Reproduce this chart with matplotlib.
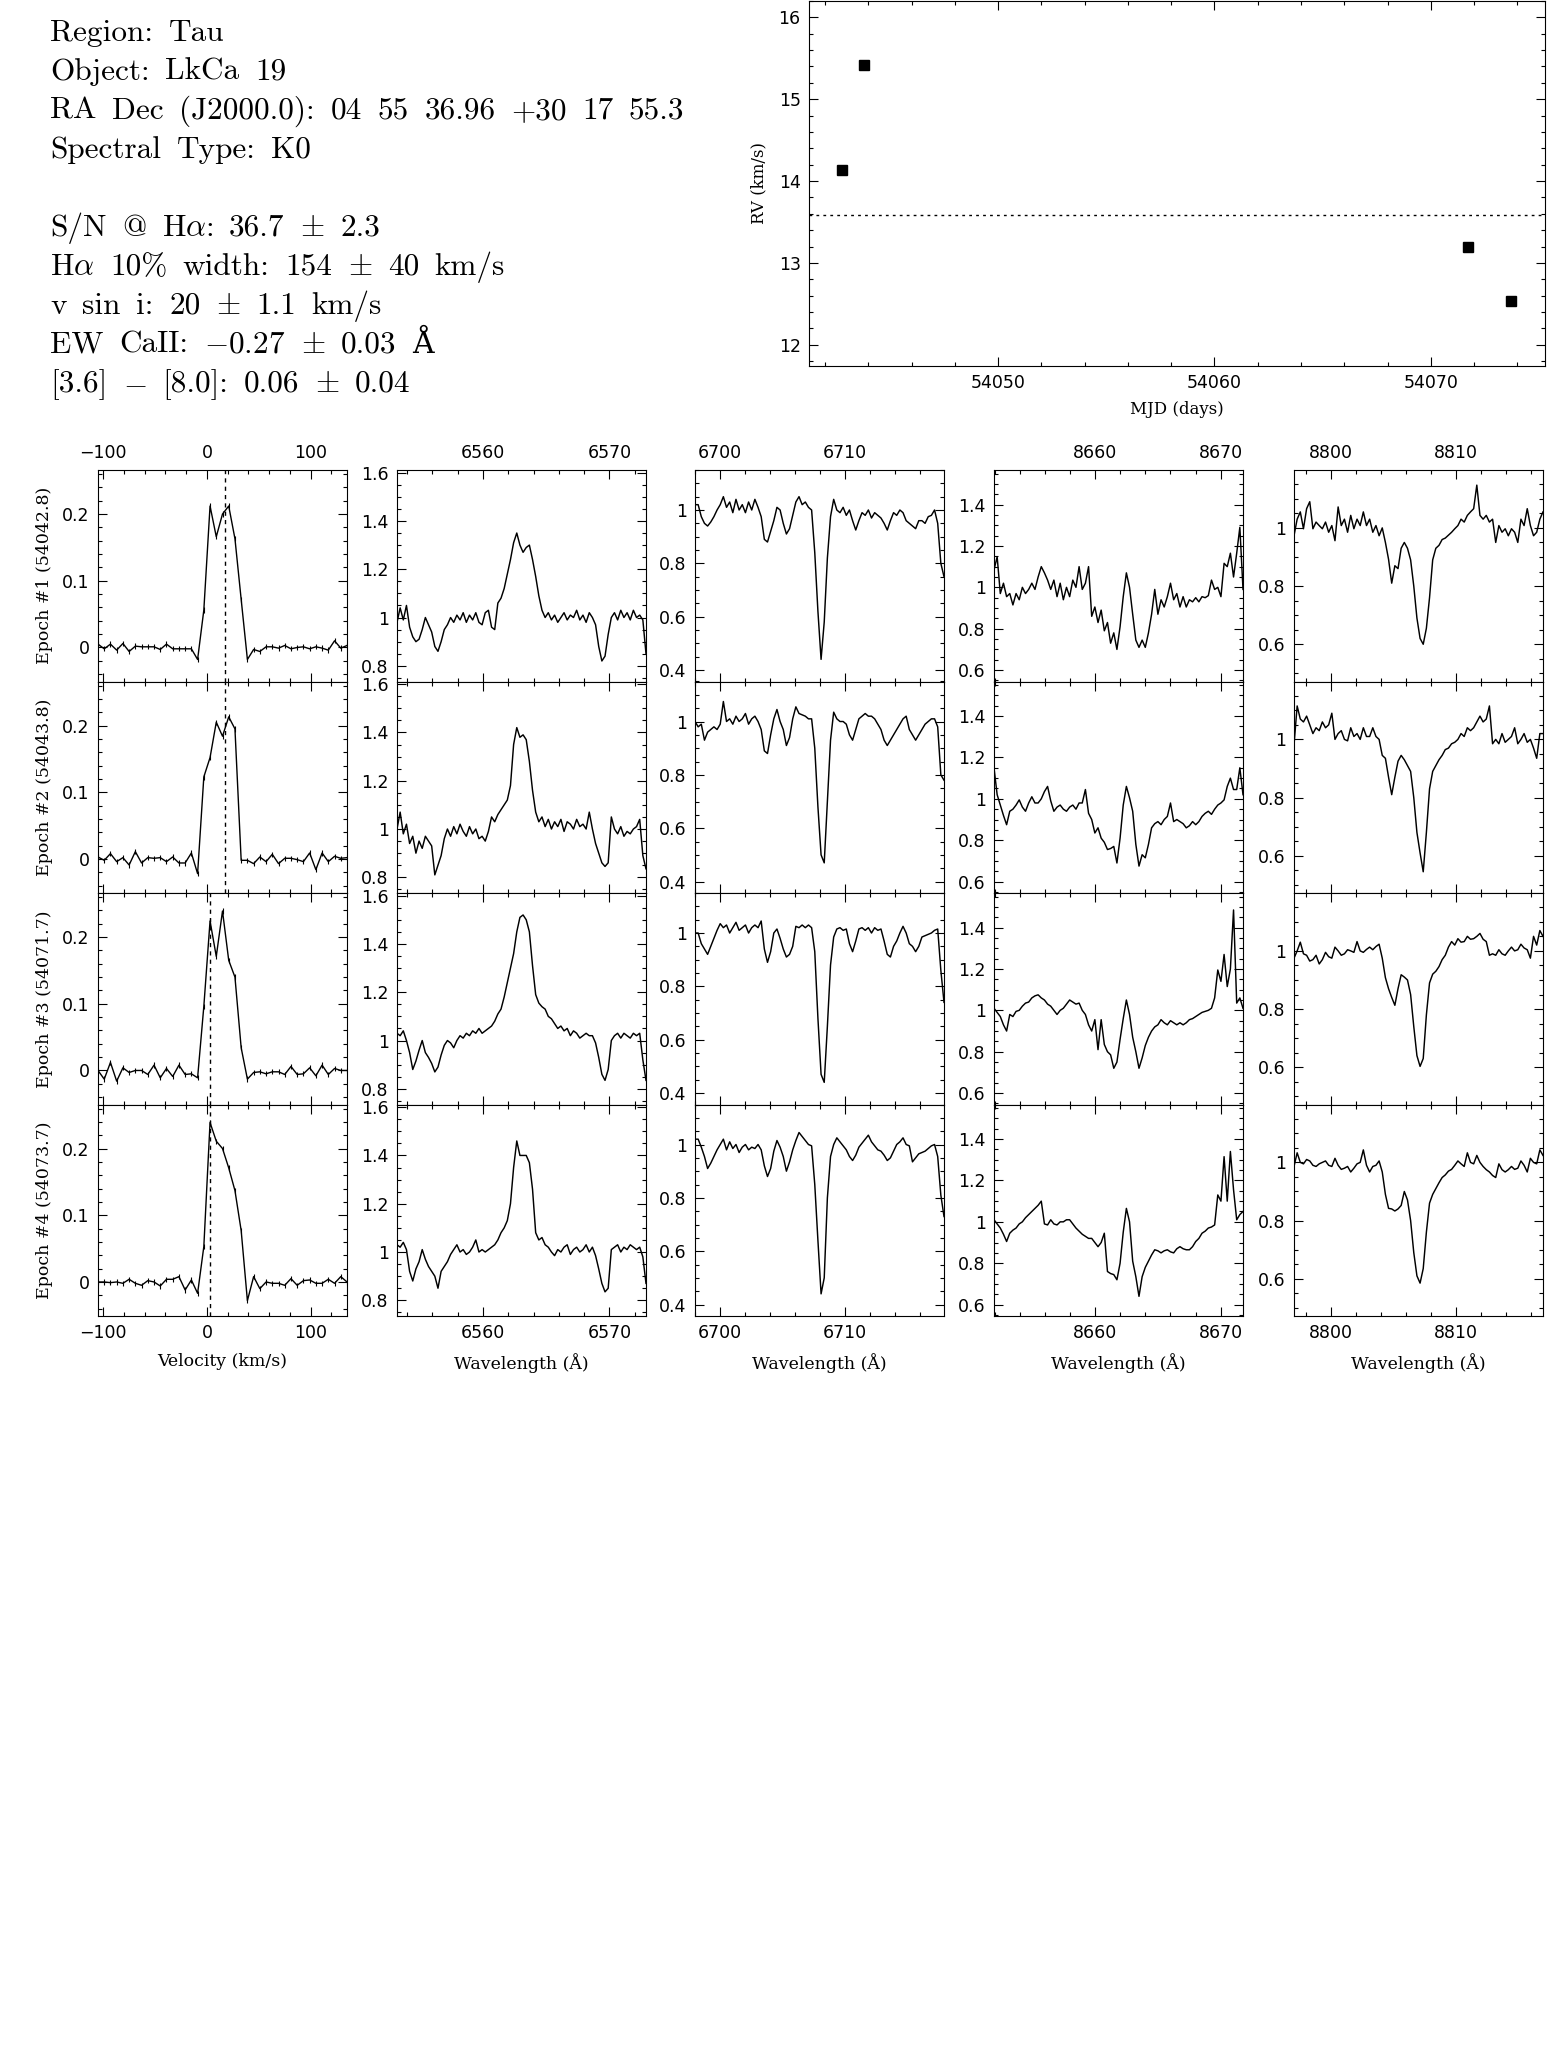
import numpy as np
import matplotlib
matplotlib.use("Agg")
import matplotlib.pyplot as plt
from matplotlib.ticker import MultipleLocator, FuncFormatter

plt.rcParams['font.family'] = ['DejaVu Sans']
plt.rcParams['mathtext.fontset'] = 'cm'
plt.rcParams['axes.linewidth'] = 0.8

# Header text block
info_lines = [
    "Region: Tau",
    "Object: LkCa 19",
    "RA Dec (J2000.0): 04 55 36.96 +30 17 55.3",
    "Spectral Type: K0",
    "",
    r"S/N @ H$\alpha$: 36.7 $\pm$ 2.3",
    r"H$\alpha$ 10% width: 154 $\pm$ 40 km/s",
    r"v sin i: 20 $\pm$ 1.1 km/s",
    r"EW CaII: $-$0.27 $\pm$ 0.03 Å",
    r"[3.6] $-$ [8.0]: 0.06 $\pm$ 0.04",
]

# Radial velocity per epoch
mjd = [54042.8, 54043.8, 54071.7, 54073.7]
rv = [14.13, 15.42, 13.19, 12.53]
rv_mean = 13.58

epoch_labels = ["Epoch #1 (54042.8)", "Epoch #2 (54043.8)",
                "Epoch #3 (54071.7)", "Epoch #4 (54073.7)"]

# Cross-correlation functions
ccf_vel = np.arange(-105, 136, 6)
ccf_peak = [17, 17, 2.5, 2.5]
ccf_err = 0.004
ccf_e1 = [0.005, -0.002, 0.005, -0.004, 0.006, -0.006, 0.002, 0.001, 0.001, 0.001,
          -0.003, 0.005, -0.002, -0.002, -0.002, -0.002, -0.018, 0.056, 0.212, 0.166,
          0.200, 0.212, 0.163, 0.072, -0.018, -0.003, -0.006, 0.001, 0.001, -0.001,
          0.003, -0.002, 0.000, 0.001, -0.002, 0.001, -0.001, -0.004, 0.010, -0.001, 0.003]
ccf_e2 = [0.003, -0.002, 0.008, -0.004, 0.002, -0.009, 0.011, -0.006, 0.002, 0.001,
          0.002, -0.004, 0.003, -0.006, -0.006, 0.009, -0.022, 0.123, 0.152, 0.205,
          0.184, 0.213, 0.195, -0.002, -0.002, -0.007, 0.003, -0.004, 0.007, -0.007,
          0.001, 0.001, -0.001, -0.004, 0.009, -0.016, 0.009, -0.004, 0.004, 0.001, 0.002]
ccf_e3 = [0.000, -0.013, 0.012, -0.016, 0.004, -0.003, 0.000, 0.000, -0.006, 0.008,
          -0.011, 0.003, -0.009, 0.008, -0.006, -0.005, -0.011, 0.096, 0.224, 0.171,
          0.239, 0.165, 0.140, 0.034, -0.013, -0.003, -0.002, -0.005, -0.002, -0.002,
          -0.006, 0.006, -0.006, -0.005, 0.004, -0.008, 0.008, -0.006, 0.003, 0.000, 0.000]
ccf_e4 = [0.000, 0.000, -0.001, 0.000, -0.002, 0.004, -0.002, -0.005, 0.002, 0.000,
          -0.006, 0.004, 0.004, 0.008, -0.012, 0.003, -0.017, 0.053, 0.239, 0.211,
          0.200, 0.171, 0.137, 0.077, -0.028, 0.008, -0.010, 0.000, -0.002, -0.002,
          -0.005, 0.005, -0.005, 0.002, 0.003, -0.002, -0.002, 0.004, -0.002, 0.008, 0.000]
ccf_all = [ccf_e1, ccf_e2, ccf_e3, ccf_e4]

# H-alpha region
ha_e1 = [0.98, 1.04, 0.99, 1.05, 0.96, 0.92, 0.90, 0.91, 0.95, 1.00,
         0.97, 0.94, 0.88, 0.86, 0.90, 0.95, 0.97, 1.00, 0.98, 1.01,
         0.99, 1.02, 0.98, 1.01, 0.99, 1.02, 0.98, 0.97, 1.02, 1.03,
         0.96, 0.95, 1.06, 1.08, 1.12, 1.18, 1.24, 1.31, 1.35, 1.30,
         1.27, 1.29, 1.30, 1.24, 1.17, 1.09, 1.03, 1.00, 1.02, 0.99,
         1.01, 0.98, 1.00, 1.02, 0.99, 1.01, 1.00, 1.03, 0.99, 1.01,
         0.98, 1.02, 1.00, 0.97, 0.88, 0.82, 0.84, 0.93, 1.00, 1.02,
         0.99, 1.03, 1.00, 1.02, 0.99, 1.03, 1.00, 1.01, 0.99, 0.85]
ha_e2 = [1.00, 1.07, 0.98, 1.02, 0.94, 0.97, 0.90, 0.95, 0.92, 0.97,
         0.95, 0.93, 0.81, 0.85, 0.89, 0.96, 1.00, 0.97, 1.01, 0.98,
         1.02, 0.99, 0.97, 1.01, 0.98, 1.00, 0.96, 0.97, 0.95, 0.99,
         1.05, 1.03, 1.06, 1.08, 1.10, 1.12, 1.18, 1.35, 1.42, 1.38,
         1.39, 1.37, 1.28, 1.16, 1.07, 1.03, 1.05, 1.01, 1.04, 1.00,
         1.03, 1.01, 1.04, 0.99, 1.03, 1.02, 1.00, 1.04, 1.01, 1.02,
         1.00, 1.07, 1.00, 0.94, 0.90, 0.86, 0.845, 0.86, 1.05, 1.00,
         0.98, 1.01, 0.97, 0.99, 0.98, 1.00, 1.01, 1.04, 0.89, 0.835]
ha_e3 = [1.03, 1.02, 1.04, 1.00, 0.95, 0.88, 0.915, 0.96, 1.00, 0.95,
         0.93, 0.905, 0.87, 0.89, 0.94, 0.98, 1.00, 0.99, 0.97, 1.00,
         1.02, 1.01, 1.03, 1.02, 1.04, 1.03, 1.05, 1.03, 1.04, 1.05,
         1.06, 1.08, 1.11, 1.13, 1.18, 1.24, 1.30, 1.36, 1.45, 1.51,
         1.52, 1.50, 1.45, 1.31, 1.19, 1.155, 1.14, 1.13, 1.10, 1.09,
         1.07, 1.05, 1.06, 1.04, 1.05, 1.02, 1.04, 1.03, 1.01, 1.02,
         1.03, 1.02, 1.02, 0.99, 0.93, 0.86, 0.835, 0.88, 1.00, 1.02,
         1.03, 1.01, 1.03, 1.02, 1.01, 1.03, 1.02, 1.03, 0.92, 0.835]
ha_e4 = [1.03, 1.02, 1.04, 1.01, 0.92, 0.88, 0.93, 0.96, 1.01, 0.97,
         0.94, 0.92, 0.90, 0.85, 0.92, 0.94, 0.96, 0.99, 1.01, 1.03,
         1.00, 1.01, 0.99, 1.00, 1.02, 1.05, 1.00, 1.01, 1.00, 1.01,
         1.02, 1.03, 1.05, 1.08, 1.10, 1.13, 1.20, 1.35, 1.46, 1.40,
         1.40, 1.40, 1.37, 1.26, 1.08, 1.05, 1.06, 1.03, 1.02, 1.00,
         0.985, 1.01, 1.00, 1.02, 1.03, 0.99, 1.01, 1.02, 1.00, 1.01,
         1.03, 1.00, 1.02, 0.985, 0.93, 0.87, 0.835, 0.85, 1.01, 1.02,
         1.03, 1.00, 1.02, 1.01, 1.03, 1.02, 1.01, 1.02, 0.98, 0.87]

# Li 6708 region
li_e1 = [1.02, 1.02, 0.975, 0.95, 0.94, 0.955, 0.975, 1.00, 1.02, 1.05,
         1.01, 1.03, 0.99, 1.04, 1.00, 1.02, 0.99, 1.03, 1.00, 1.04,
         1.01, 0.975, 0.89, 0.88, 0.92, 0.96, 1.01, 1.00, 0.95, 0.91,
         0.93, 0.98, 1.03, 1.05, 1.02, 1.03, 1.01, 1.00, 0.84, 0.62,
         0.44, 0.58, 0.82, 0.975, 1.04, 1.00, 0.99, 1.01, 0.98, 1.00,
         0.96, 0.925, 0.96, 0.99, 0.98, 1.00, 0.97, 0.99, 0.98, 0.97,
         0.95, 0.925, 0.96, 0.99, 0.98, 1.00, 0.99, 0.96, 0.95, 0.94,
         0.93, 0.96, 0.96, 0.95, 0.975, 0.98, 1.00, 0.95, 0.80, 0.75]
li_e2 = [1.00, 0.98, 0.99, 0.93, 0.96, 0.97, 0.98, 0.97, 0.99, 1.075,
         1.00, 1.01, 0.99, 1.02, 1.00, 1.01, 1.03, 0.99, 1.01, 1.02,
         1.00, 0.97, 0.89, 0.88, 0.95, 1.01, 1.045, 1.00, 0.97, 0.91,
         0.94, 1.01, 1.055, 1.03, 1.025, 1.02, 1.01, 1.01, 0.90, 0.68,
         0.50, 0.47, 0.70, 0.93, 1.035, 1.01, 1.00, 1.00, 0.99, 0.95,
         0.93, 0.97, 1.01, 1.02, 1.03, 1.02, 1.02, 1.01, 0.99, 0.97,
         0.93, 0.91, 0.93, 0.95, 0.97, 0.99, 1.01, 1.02, 0.97, 0.95,
         0.93, 0.95, 0.97, 0.99, 1.00, 1.01, 1.01, 0.98, 0.80, 0.78]
li_e3 = [1.00, 1.00, 0.96, 0.94, 0.92, 0.95, 0.98, 1.01, 1.035, 1.02,
         1.03, 1.00, 1.02, 1.04, 1.01, 1.02, 1.03, 1.00, 1.02, 1.03,
         1.02, 1.045, 0.94, 0.89, 0.93, 1.00, 1.015, 0.98, 0.94, 0.91,
         0.92, 0.95, 1.025, 1.02, 1.03, 1.02, 1.03, 1.02, 0.93, 0.68,
         0.47, 0.44, 0.65, 0.88, 0.985, 1.015, 1.02, 1.01, 1.015, 0.96,
         0.93, 0.97, 1.015, 1.02, 1.01, 1.02, 1.00, 1.02, 1.01, 1.015,
         0.97, 0.92, 0.91, 0.95, 0.97, 1.00, 1.025, 1.00, 0.96, 0.95,
         0.93, 0.95, 0.985, 0.99, 0.995, 1.00, 1.01, 1.015, 0.86, 0.74]
li_e4 = [1.02, 1.02, 0.99, 0.955, 0.91, 0.93, 0.955, 0.98, 1.00, 1.02,
         0.98, 1.01, 0.985, 1.00, 0.97, 0.99, 1.00, 0.98, 0.99, 0.985,
         1.00, 0.98, 0.92, 0.88, 0.91, 0.975, 1.015, 0.99, 0.955, 0.90,
         0.935, 0.98, 1.015, 1.045, 1.03, 1.015, 1.00, 0.995, 0.85, 0.64,
         0.44, 0.50, 0.80, 0.955, 1.00, 1.025, 1.01, 0.995, 0.98, 0.955,
         0.94, 0.96, 0.99, 1.005, 1.02, 1.035, 1.01, 0.995, 0.98, 0.975,
         0.96, 0.94, 0.95, 0.975, 1.00, 1.01, 1.025, 1.00, 0.995, 0.935,
         0.95, 0.965, 0.97, 0.975, 0.985, 0.995, 1.00, 0.955, 0.81, 0.73]

# Ca II 8662 region
ca1_e1 = [1.084, 1.148, 0.97, 1.02, 0.955, 0.97, 0.915, 0.97, 0.94, 1.00,
          0.97, 0.99, 1.02, 0.99, 1.05, 1.10, 1.07, 1.035, 0.99, 1.035,
          0.955, 1.02, 0.94, 1.00, 0.955, 1.035, 1.00, 1.10, 0.99, 1.02,
          1.10, 0.86, 0.905, 0.83, 0.89, 0.79, 0.83, 0.73, 0.78, 0.70,
          0.81, 0.955, 1.07, 1.00, 0.87, 0.745, 0.71, 0.745, 0.71, 0.78,
          0.87, 0.99, 0.87, 0.94, 0.905, 0.955, 1.02, 0.94, 0.97, 0.905,
          0.955, 0.905, 0.94, 0.93, 0.95, 0.93, 0.955, 0.95, 0.96, 1.035,
          0.99, 1.00, 0.955, 1.116, 1.10, 1.165, 1.05, 1.165, 1.29, 0.99]
ca1_e2 = [1.15, 1.02, 0.97, 0.92, 0.875, 0.94, 0.95, 0.97, 0.995, 0.96,
          0.94, 0.98, 1.01, 0.98, 0.98, 1.00, 1.035, 1.06, 0.99, 0.94,
          0.96, 0.97, 0.95, 0.94, 0.96, 0.97, 0.95, 0.98, 0.98, 1.045,
          0.93, 0.90, 0.835, 0.86, 0.81, 0.79, 0.755, 0.76, 0.77, 0.69,
          0.81, 0.97, 1.06, 1.005, 0.94, 0.78, 0.675, 0.73, 0.715, 0.78,
          0.86, 0.88, 0.89, 0.875, 0.90, 0.915, 0.98, 0.89, 0.90, 0.89,
          0.88, 0.86, 0.87, 0.89, 0.875, 0.89, 0.915, 0.93, 0.94, 0.925,
          0.95, 0.97, 0.98, 0.995, 1.06, 1.10, 1.045, 1.045, 1.15, 1.02]
ca1_e3 = [1.01, 0.99, 0.97, 0.93, 0.90, 0.98, 0.97, 0.995, 1.00, 1.02,
          1.035, 1.04, 1.06, 1.07, 1.075, 1.06, 1.05, 1.03, 1.02, 1.00,
          0.98, 1.00, 1.01, 1.03, 1.05, 1.04, 1.03, 1.035, 1.00, 0.98,
          0.93, 0.90, 0.955, 0.81, 0.955, 0.835, 0.80, 0.785, 0.72, 0.75,
          0.86, 0.96, 1.05, 0.98, 0.87, 0.80, 0.72, 0.77, 0.83, 0.87,
          0.90, 0.92, 0.93, 0.955, 0.94, 0.93, 0.95, 0.94, 0.93, 0.94,
          0.93, 0.94, 0.955, 0.96, 0.97, 0.98, 0.99, 0.995, 1.00, 1.01,
          1.06, 1.195, 1.14, 1.27, 1.115, 1.20, 1.485, 1.035, 1.06, 1.01]
ca1_e4 = [1.01, 0.99, 0.97, 0.94, 0.905, 0.945, 0.96, 0.97, 0.99, 1.00,
          1.02, 1.035, 1.05, 1.065, 1.08, 1.10, 0.99, 0.985, 1.01, 0.99,
          0.985, 1.00, 1.00, 1.01, 1.01, 0.99, 0.97, 0.955, 0.94, 0.93,
          0.92, 0.92, 0.90, 0.88, 0.90, 0.945, 0.76, 0.75, 0.745, 0.72,
          0.80, 0.95, 1.065, 1.00, 0.81, 0.735, 0.64, 0.735, 0.78, 0.81,
          0.84, 0.865, 0.86, 0.85, 0.86, 0.865, 0.855, 0.85, 0.87, 0.88,
          0.87, 0.865, 0.865, 0.88, 0.905, 0.92, 0.945, 0.955, 0.97, 0.975,
          0.985, 1.13, 1.10, 1.315, 1.10, 1.34, 1.155, 1.01, 1.035, 1.05]

# Ca II 8807 / Mg I region
ca2_e1 = [0.973, 1.03, 1.055, 0.997, 1.066, 1.09, 0.997, 1.02, 1.008, 0.997,
          1.02, 0.985, 1.008, 0.956, 1.072, 1.008, 1.03, 0.985, 1.043, 0.997,
          1.03, 1.008, 1.055, 1.008, 1.03, 0.985, 1.008, 0.973, 1.00, 0.95,
          0.892, 0.81, 0.87, 0.86, 0.93, 0.95, 0.93, 0.89, 0.80, 0.69,
          0.62, 0.60, 0.655, 0.76, 0.89, 0.93, 0.94, 0.96, 0.965, 0.975,
          0.985, 0.997, 1.008, 1.03, 1.02, 1.043, 1.055, 1.066, 1.147, 1.043,
          1.03, 1.043, 1.02, 1.03, 0.95, 1.008, 0.985, 0.997, 0.973, 0.997,
          0.985, 0.95, 1.03, 1.008, 1.066, 1.008, 0.973, 0.985, 1.03, 1.055]
ca2_e2 = [0.98, 1.115, 1.07, 1.06, 1.08, 1.05, 1.02, 1.04, 1.03, 1.06,
          1.04, 1.05, 1.09, 1.00, 1.02, 1.03, 1.00, 0.995, 1.04, 1.01,
          1.02, 1.00, 1.04, 1.01, 1.01, 1.04, 1.01, 1.00, 0.945, 0.935,
          0.87, 0.81, 0.87, 0.925, 0.945, 0.93, 0.91, 0.89, 0.80, 0.68,
          0.61, 0.545, 0.68, 0.83, 0.89, 0.91, 0.93, 0.945, 0.965, 0.97,
          0.985, 0.99, 1.00, 1.02, 1.01, 1.04, 1.03, 1.04, 1.06, 1.08,
          1.06, 1.07, 1.115, 0.985, 1.00, 0.985, 1.02, 0.99, 1.00, 1.01,
          1.04, 0.985, 1.00, 1.02, 0.99, 1.00, 0.97, 0.935, 1.02, 1.02]
ca2_e3 = [0.975, 1.00, 1.03, 0.99, 0.985, 0.965, 0.97, 0.985, 0.955, 0.97,
          0.995, 0.98, 0.975, 1.013, 1.00, 0.985, 0.99, 1.004, 1.00, 0.995,
          1.032, 1.00, 0.995, 1.005, 1.013, 1.004, 1.015, 1.023, 0.975, 0.908,
          0.87, 0.84, 0.813, 0.87, 0.918, 0.91, 0.90, 0.85, 0.74, 0.64,
          0.603, 0.63, 0.78, 0.89, 0.92, 0.93, 0.946, 0.97, 0.985, 1.013,
          1.032, 1.02, 1.042, 1.03, 1.032, 1.05, 1.04, 1.042, 1.05, 1.06,
          1.04, 1.032, 0.985, 0.99, 0.985, 1.004, 0.99, 0.985, 1.00, 1.013,
          1.00, 1.004, 1.023, 1.01, 1.004, 0.975, 1.05, 1.02, 1.07, 1.05]
ca2_e4 = [0.986, 1.033, 1.00, 0.995, 1.01, 1.005, 0.99, 0.986, 0.995, 1.00,
          1.005, 0.99, 0.986, 1.014, 0.99, 0.976, 0.98, 0.986, 0.967, 0.98,
          0.995, 1.00, 1.043, 0.99, 0.967, 0.986, 0.99, 1.005, 0.967, 0.89,
          0.842, 0.84, 0.833, 0.84, 0.852, 0.90, 0.871, 0.80, 0.69, 0.61,
          0.585, 0.635, 0.76, 0.86, 0.89, 0.91, 0.93, 0.948, 0.957, 0.97,
          0.976, 0.99, 1.005, 0.995, 0.986, 1.033, 1.00, 0.995, 1.024, 1.00,
          0.986, 0.975, 0.967, 0.955, 0.948, 0.995, 0.975, 0.967, 0.975, 0.986,
          0.976, 0.98, 1.005, 0.99, 0.967, 1.014, 1.00, 0.995, 1.043, 1.024]

spec_cols = [
    [ha_e1, ha_e2, ha_e3, ha_e4],
    [li_e1, li_e2, li_e3, li_e4],
    [ca1_e1, ca1_e2, ca1_e3, ca1_e4],
    [ca2_e1, ca2_e2, ca2_e3, ca2_e4],
]
spec_xlim = [(6553.2, 6572.9), (6698.0, 6717.9), (8651.93, 8671.78), (8797.05, 8816.95)]
spec_ylim = [(0.735, 1.611), (0.357, 1.15), (0.545, 1.567), (0.472, 1.199)]

W, H = 1547, 2069
fig = plt.figure(figsize=(W / 100, H / 100), dpi=100)
renderer = fig.canvas.get_renderer()


def fmt_num(v, pos):
    s = "%g" % round(v, 6)
    return s.replace("-", "\u2212")


def style_ax(ax, xmaj, xmin, ymaj, ymin):
    ax.xaxis.set_major_locator(MultipleLocator(xmaj))
    ax.xaxis.set_minor_locator(MultipleLocator(xmin))
    ax.yaxis.set_major_locator(MultipleLocator(ymaj))
    ax.yaxis.set_minor_locator(MultipleLocator(ymin))
    ax.xaxis.set_major_formatter(FuncFormatter(fmt_num))
    ax.yaxis.set_major_formatter(FuncFormatter(fmt_num))
    ax.tick_params(which='both', direction='in', top=True, right=True, width=0.8,
                   labelsize=12.5, pad=6)
    ax.tick_params(which='major', length=6.5)
    ax.tick_params(which='minor', length=3.2)


# header text (wider spaces as in the original typesetting)
hdr_font = ['cmr10', 'DejaVu Serif']
hdr_size = 22.5
gap = 0.5 * hdr_size * 100 / 72  # en space in pixels
for k, line in enumerate(info_lines):
    if not line:
        continue
    y = 1 - (40.7 + 39 * k) / H
    # cmr10 has no proper Å, so that glyph is drawn separately
    tail = None
    if line.endswith("Å"):
        line, tail = line[:-2], "Å"
    words = line.split(" ")
    x_px = 50
    for w_txt in words:
        t = fig.text(x_px / W, y, w_txt, fontsize=hdr_size, family=hdr_font,
                     va='baseline', ha='left')
        x_px = t.get_window_extent(renderer).x1 + gap
    if tail:
        fig.text(x_px / W, y, tail, fontsize=hdr_size - 1, family='DejaVu Serif',
                 va='baseline', ha='left')

# RV plot
ax_rv = fig.add_axes([809 / W, 1 - 366 / H, 736 / W, 365 / H])
ax_rv.plot(mjd, rv, 's', color='k', markersize=7)
ax_rv.axhline(rv_mean, color='k', lw=1, ls=(0, (2, 3)))
ax_rv.set_xlim(54041.26, 54075.28)
ax_rv.set_ylim(11.74, 16.2)
style_ax(ax_rv, 10, 2, 1, 0.2)
ax_rv.set_xlabel("MJD (days)", family='DejaVu Serif', fontsize=12, labelpad=6)
ax_rv.set_ylabel("RV (km/s)", family='DejaVu Serif', fontsize=12, labelpad=8)

# panel grid: CCF + four spectral windows per epoch
col_left = [98, 397, 695, 994, 1294]
col_w = 249
row_top = 470
row_h = 211.5

for r in range(4):
    bottom = 1 - (row_top + row_h * (r + 1)) / H
    for c in range(5):
        ax = fig.add_axes([col_left[c] / W, bottom, col_w / W, row_h / H])
        if c == 0:
            ax.errorbar(ccf_vel, ccf_all[r], yerr=ccf_err, fmt='-', color='k',
                        lw=1, elinewidth=0.8, capsize=0)
            ax.axvline(ccf_peak[r], color='k', lw=1, ls=(0, (3, 3)))
            ax.set_xlim(-105, 135)
            ax.set_ylim(-0.051, 0.266)
            style_ax(ax, 100, 20, 0.1, 0.02)
            xlab = "Velocity (km/s)"
        else:
            flux = spec_cols[c - 1][r]
            x0, x1 = spec_xlim[c - 1]
            wave = np.linspace(x0, x1, len(flux))
            ax.plot(wave, flux, color='k', lw=1.05)
            ax.set_xlim(x0, x1)
            ax.set_ylim(*spec_ylim[c - 1])
            style_ax(ax, 10, 2, 0.2, 0.05)
            xlab = "Wavelength (Å)"
        ax.tick_params(labeltop=(r == 0), labelbottom=(r == 3))
        if r == 3:
            ax.set_xlabel(xlab, family='DejaVu Serif', fontsize=12.5, labelpad=8)
    fig.text(45 / W, bottom + row_h / H / 2, epoch_labels[r], rotation=90,
             family='DejaVu Serif', fontsize=12.5, ha='center', va='center')

fig.savefig("out.png", dpi=100)
